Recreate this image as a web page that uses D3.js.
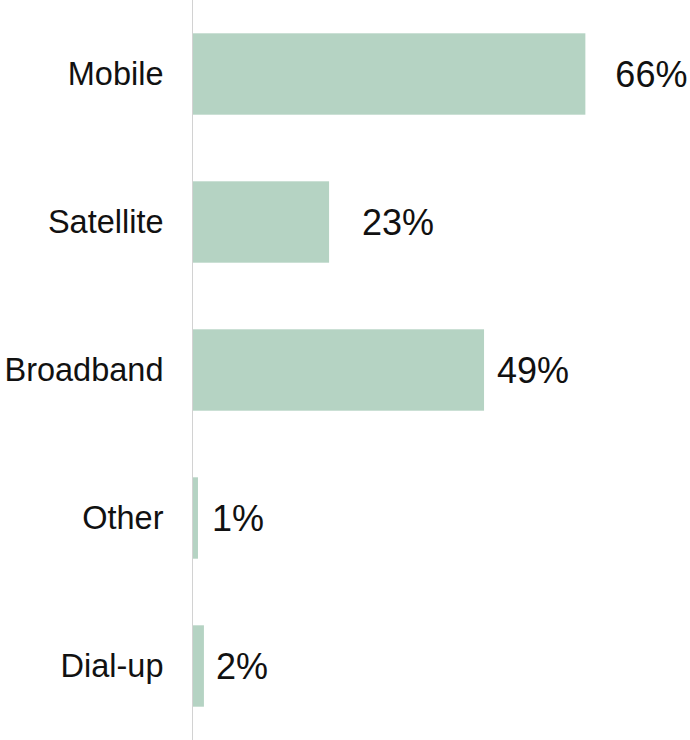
<!DOCTYPE html>
<html>
<head>
<meta charset="utf-8">
<script src="https://cdn.jsdelivr.net/npm/d3@7"></script>
<style>
  body { margin: 0; background: #fff; }
  text { font-family: "Liberation Sans", Arial, sans-serif; fill: #111; }
</style>
</head>
<body>
<svg id="chart" width="690" height="740"></svg>
<script>
// data
var categories = ["Mobile", "Satellite", "Broadband", "Other", "Dial-up"];
var shares = [66, 23, 49, 1, 2];
var valueLabels = ["66%", "23%", "49%", "1%", "2%"];

// label nudges (the original labels were not placed evenly)
var labelDx = [30, 33, 13, 14, 12];

var width = 690, height = 740;
var axisX = 192;

var x = d3.scaleLinear().domain([0, 100]).range([axisX, axisX + 596]);
var y = d3.scaleBand()
  .domain(categories)
  .range([0, height])
  .paddingInner(0.45)
  .paddingOuter(0.225);

var svg = d3.select("#chart");

var rows = categories.map(function(c, i) {
  return { name: c, value: shares[i], label: valueLabels[i], dx: labelDx[i] };
});

// bars
svg.selectAll("rect.bar")
  .data(rows)
  .enter()
  .append("rect")
  .attr("class", "bar")
  .attr("x", x(0) + 1)
  .attr("y", function(d) { return y(d.name); })
  .attr("width", function(d) { return x(d.value) - x(0) - 1; })
  .attr("height", y.bandwidth())
  .style("fill", "#b5d3c3");

// vertical axis line with category labels
var axis = d3.axisLeft(y).tickSize(0).tickPadding(29);
var g = svg.append("g")
  .attr("transform", "translate(" + (axisX + 0.5) + ",0)")
  .call(axis);
g.select(".domain")
  .attr("d", "M0,0V" + height)
  .attr("stroke", "#d2d2d2");
g.selectAll(".tick text")
  .style("font-size", "32.5px")
  .style("font-family", "'Liberation Sans', Arial, sans-serif")
  .attr("fill", "#111")
  .attr("dy", "0.35em");

// value labels
svg.selectAll("text.value")
  .data(rows)
  .enter()
  .append("text")
  .attr("class", "value")
  .attr("x", function(d) { return x(d.value) + d.dx; })
  .attr("y", function(d) { return y(d.name) + y.bandwidth() / 2; })
  .attr("dy", "0.35em")
  .style("font-size", "36px")
  .text(function(d) { return d.label; });
</script>
</body>
</html>
